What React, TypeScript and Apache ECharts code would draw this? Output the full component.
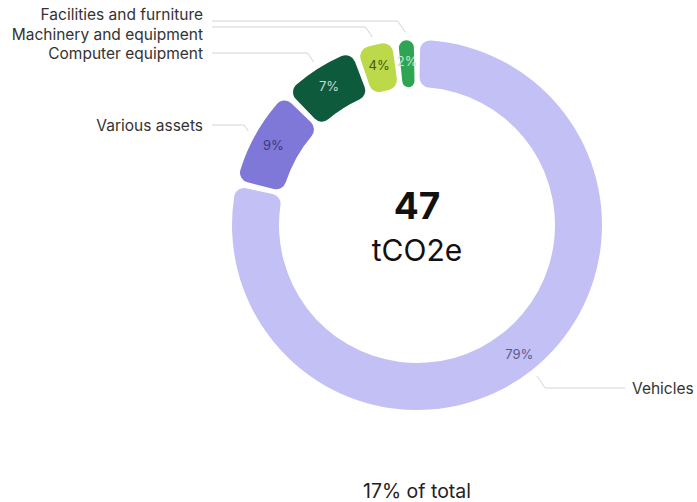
import React, { useEffect, useRef } from "react";
import * as echarts from "echarts";

const categories = [
  "Vehicles",
  "Various assets",
  "Computer equipment",
  "Machinery and equipment",
  "Facilities and furniture",
];
const values = [37.2, 4.2, 3.3, 1.7, 0.9];
const sliceColors = ["#c2c0f5", "#7f78d8", "#0e5a3c", "#bcd94a", "#2fa452"];
const percentColors = ["#5b5a8c", "#3d3a7c", "#cfd8d2", "#3f5a12", "#c6e6cf"];
const totalValue = "47";
const unitLabel = "tCO2e";
const footerLabel = "17% of total";

// label placement (layout only): vertical position of text and of its leader line
const labelTextY = [388, 125, 53.5, 34, 14.5];
const labelLineY = [388, 125, 53, 27, 21];

const FONT = "Inter, 'Noto Sans', sans-serif";

export default function App() {
  const ref = useRef<HTMLDivElement>(null);
  useEffect(() => {
    if (!ref.current) return;
    const chart = echarts.init(ref.current, null, { renderer: "svg" });
    const sum = values.reduce((a, b) => a + b, 0);
    const cx = 417;
    const cy = 225;
    const center = [cx, cy];
    const radius = [138, 185];
    const base = {
      type: "pie",
      center,
      radius,
      startAngle: 90,
      clockwise: true,
      padAngle: 2,
    };
    const midAngles: number[] = [];
    let acc = 0;
    values.forEach((v) => {
      const a0 = acc / sum;
      acc += v;
      const a1 = acc / sum;
      const mid = ((a0 + a1) / 2) * Math.PI * 2;
      midAngles.push(-Math.PI / 2 + mid);
    });
    const lineStartR = 193;
    const leftTextX = 203;
    const leftLineX = 212;
    const rightTextX = 632;
    const rightLineX = 625;

    chart.setOption({
      animation: false,
      series: [
        {
          ...base,
          silent: true,
          itemStyle: { borderRadius: 10 },
          label: {
            show: true,
            position: "inside",
            fontFamily: FONT,
            fontSize: 13,
            formatter: (p: any) => Math.round((p.value / sum) * 100) + "%",
          },
          labelLine: { show: false },
          data: categories.map((name, i) => ({
            name,
            value: values[i],
            itemStyle: { color: sliceColors[i] },
            label: { color: percentColors[i] },
          })),
        },
        {
          ...base,
          silent: true,
          itemStyle: { color: "rgba(0,0,0,0)" },
          label: {
            show: true,
            position: "outside",
            fontFamily: FONT,
            fontSize: 15.5,
            lineHeight: 16,
            color: "#333",
            formatter: "{b}",
          },
          labelLine: {
            show: true,
            length: 15,
            length2: 20,
            lineStyle: { color: "#d4d4d4", width: 1 },
          },
          labelLayout: (params: any) => {
            if (params.seriesIndex !== 1) return {};
            const i = params.dataIndex;
            const ang = midAngles[i];
            const sx = cx + Math.cos(ang) * lineStartR;
            const sy = cy + Math.sin(ang) * lineStartR;
            const isLeft = Math.cos(ang) < 0;
            const ly = labelLineY[i];
            const bendDx = Math.abs(ly - sy) * 0.7;
            const bx = isLeft ? sx - bendDx : sx + bendDx;
            const ex = isLeft ? leftLineX : rightLineX;
            return {
              x: isLeft ? leftTextX : rightTextX,
              y: labelTextY[i],
              align: isLeft ? "right" : "left",
              verticalAlign: "middle",
              labelLinePoints: [
                [sx, sy],
                [bx, ly],
                [ex, ly],
              ],
            };
          },
          data: categories.map((name, i) => ({ name, value: values[i] })),
        },
      ],
      graphic: [
        {
          type: "text",
          x: cx,
          y: 205,
          style: {
            text: totalValue,
            fontFamily: FONT,
            fontSize: 37,
            fontWeight: "bold",
            fill: "#111",
            align: "center",
            verticalAlign: "middle",
          },
        },
        {
          type: "text",
          x: cx,
          y: 250,
          style: {
            text: unitLabel,
            fontFamily: FONT,
            fontSize: 30,
            fill: "#111",
            align: "center",
            verticalAlign: "middle",
          },
        },
        {
          type: "text",
          x: cx,
          y: 491,
          style: {
            text: footerLabel,
            fontFamily: FONT,
            fontSize: 19.5,
            fill: "#222",
            align: "center",
            verticalAlign: "middle",
          },
        },
      ],
    });
    return () => chart.dispose();
  }, []);
  return (
    <div
      ref={ref}
      style={{ position: "fixed", left: 0, top: 0, width: 697, height: 502, background: "#fff" }}
    />
  );
}
